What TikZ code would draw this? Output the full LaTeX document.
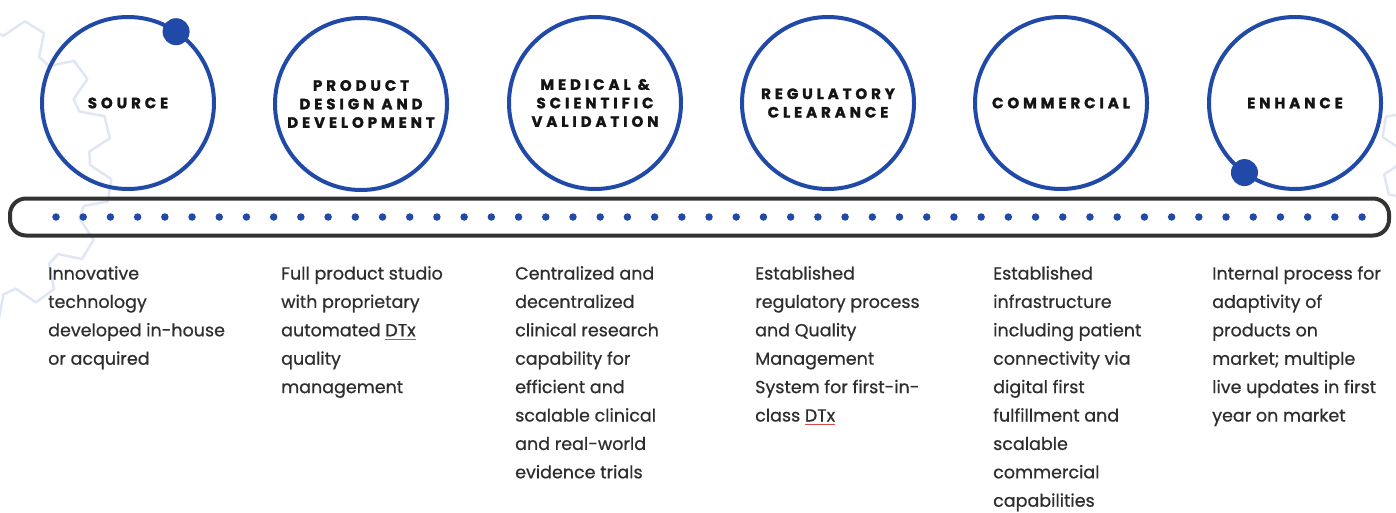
\documentclass[tikz,border=0pt]{standalone}
\usepackage{fontspec}
\setmainfont{Poppins}[FakeBold=0.7]
\newfontfamily\stagefont{Poppins}[LetterSpace=26, BoldFeatures={FakeBold=1.6}]
\usetikzlibrary{calc}

\definecolor{ringblue}{HTML}{214AA8}
\definecolor{beltgray}{HTML}{333333}
\definecolor{stagetext}{HTML}{141414}
\definecolor{bodytext}{HTML}{2E2E2E}
\definecolor{gearblue}{HTML}{E0E6F3}
\definecolor{spellred}{HTML}{D84848}

% thin red underline marking a word
\newcommand\spellmark[1]{\leavevmode\setbox0\hbox{#1}\rlap{\color{spellred}\raisebox{-3.5pt}{\rule{\wd0}{0.7pt}}}#1}

\begin{document}
\begin{tikzpicture}[x=1pt,y=-1pt,
  ring/.style={circle, draw=ringblue, line width=4pt, minimum size=172pt,
    inner sep=0pt, outer sep=0pt, align=center, text=stagetext,
    font=\stagefont\bfseries\fontsize{15}{18.5}\selectfont},
  blurb/.style={anchor=north west, inner sep=0pt, align=left, text=bodytext,
    font=\fontsize{17.5}{28.4}\selectfont},
  knob/.style={circle, fill=ringblue, minimum size=27pt, inner sep=0pt},
  beltdot/.style={circle, fill=ringblue, minimum size=7.5pt, inner sep=0pt},
  gearline/.style={draw=gearblue, line width=2.5pt, line join=round},
]
\useasboundingbox (0,0) rectangle (1396,513);

% faint gear outlines at both edges
\begin{scope}
  \clip (0,0) rectangle (1396,513);
  \begin{scope}[shift={(-50,165)}]
    \draw[gearline] (0:140) \foreach \i in {0,...,15} {
        -- ({\i*22.5+5}:162) -- ({\i*22.5+13}:162)
        -- ({\i*22.5+17}:140) -- ({(\i+1)*22.5}:140)} -- cycle;
  \end{scope}
  \begin{scope}[shift={(1530,150)}]
    \draw[gearline] (0:128) \foreach \i in {0,...,15} {
        -- ({\i*22.5+5}:148) -- ({\i*22.5+13}:148)
        -- ({\i*22.5+17}:128) -- ({(\i+1)*22.5}:128)} -- cycle;
  \end{scope}
\end{scope}

% belt with its row of dots
\node (belt) [draw=beltgray, line width=4pt, rounded corners=16pt,
  minimum width=1379pt, minimum height=37pt, inner sep=0pt] at (699.5,217) {};
\foreach \k in {0,...,48}
  \node[beltdot] (d\k) at ({56+27.21*\k},217) {};

% stage rings
\node[ring] (source)  at (128,103)  {SOURCE};
\node[ring] (design)  at (361,104)  {PRODUCT\\DESIGN AND\\DEVELOPMENT};
\node[ring] (medical) at (595,103)  {MEDICAL \&\\SCIENTIFIC\\VALIDATION};
\node[ring] (regul)   at (828,103)  {REGULATORY\\CLEARANCE};
\node[ring] (commerc) at (1061,103) {COMMERCIAL};
\node[ring] (enhance) at (1295,103) {ENHANCE};

% start and end markers on the first and last rings
\node[knob] (startknob) at (source.56) {};
\node[knob] (endknob) at (enhance.234) {};

% descriptions
\node[blurb] (t1) at (48,266) {Innovative\\technology\\developed in-house\\or acquired};
\node[blurb] (t2) at (281,266) {Full product studio\\with proprietary\\automated \spellmark{DTx}\\quality\\management};
\node[blurb] (t3) at (515,266) {Centralized and\\decentralized\\clinical research\\capability for\\efficient and\\scalable clinical\\and real-world\\evidence trials};
\node[blurb] (t4) at (755,266) {Established\\regulatory process\\and Quality\\Management\\System for first-in-\\class \spellmark{DTx}};
\node[blurb] (t5) at (993,266) {Established\\infrastructure\\including patient\\connectivity via\\digital first\\fulfillment and\\scalable\\commercial\\capabilities};
\node[blurb] (t6) at (1212,266) {Internal process for\\adaptivity of\\products on\\market; multiple\\live updates in first\\year on market};
\end{tikzpicture}
\end{document}
